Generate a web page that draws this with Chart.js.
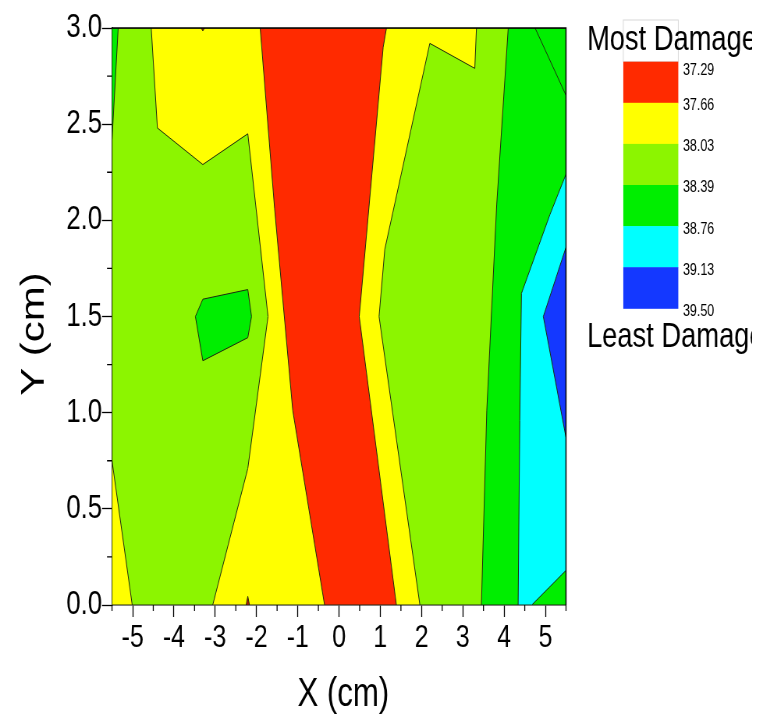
<!DOCTYPE html>
<html lang="en">
<head>
  <meta charset="UTF-8" />
  <title>Damage contour map</title>
  <script src="https://cdn.jsdelivr.net/npm/chart.js"></script>
  <style>
    html, body { margin: 0; padding: 0; background: #fff; overflow: hidden; }
  </style>
</head>
<body>
  <!-- the original picture is squeezed sideways, so the canvas is drawn wider and shrunk by css -->
  <canvas id="mapa" width="978" height="717" style="display:block; width:763px; height:717px;"></canvas>

<script>
  // ticks and colour levels
  const xTicks = [-5, -4, -3, -2, -1, 0, 1, 2, 3, 4, 5];
  const yTicks = [0, 0.5, 1.0, 1.5, 2.0, 2.5, 3.0];
  const levels = ["37.29", "37.66", "38.03", "38.39", "38.76", "39.13", "39.50"];
  const levelColors = ["#ff2a00", "#ffff00", "#8cf500", "#00ee00", "#00ffff", "#1438ff"];

  // contour regions, [x cm, y cm]
  const regionBase = [[-5.5, 0], [5.5, 0], [5.5, 3], [-5.5, 3]];
  const regionYellow = [[-4.55, 3], [-4.40, 2.48], [-3.30, 2.29], [-2.21, 2.45], [-1.72, 1.50], [-2.21, 0.71],
    [-3.06, 0], [1.96, 0], [0.97, 1.50], [1.11, 1.85], [2.20, 2.92], [3.29, 2.79], [3.33, 3]];
  const regionRed = [[-1.91, 3], [-1.56, 2.06], [-1.12, 1.01], [-0.35, 0], [1.39, 0], [0.49, 1.50], [1.07, 2.90], [1.15, 3]];
  const regionGreen = [[4.10, 3], [3.82, 2.08], [3.58, 1.01], [3.45, 0], [5.5, 0], [5.5, 3]];
  const regionCyan = [[5.5, 2.24], [5.11, 2.03], [4.42, 1.62], [4.38, 0.96], [4.34, 0], [4.67, 0], [5.5, 0.18]];
  const regionBlue = [[5.5, 1.86], [4.95, 1.50], [5.5, 0.87]];
  const islandGreen = [[-3.30, 1.59], [-2.21, 1.64], [-2.12, 1.50], [-2.21, 1.39], [-3.30, 1.27], [-3.48, 1.50]];
  const cornerGreenLeft = [[-5.5, 3], [-5.35, 3], [-5.5, 2.42]];
  const cornerGreenRight = [[4.75, 3], [5.5, 3], [5.5, 2.65]];
  const cornerYellow = [[-5.5, 0], [-5.5, 0.75], [-5.01, 0]];
  const spikeRedBottom = [[-2.25, 0], [-2.21, 0.045], [-2.17, 0]];
  const spikeRedTop = [[-3.34, 3], [-3.30, 2.985], [-3.26, 3]];

  const SX = 763 / 978;
  const fonte = "'Liberation Sans', Arial, sans-serif";

  // drawing order: first one at the back
  const camadas = [
    [regionBase, levelColors[2]],
    [regionYellow, levelColors[1]],
    [regionRed, levelColors[0]],
    [regionGreen, levelColors[3]],
    [regionCyan, levelColors[4]],
    [regionBlue, levelColors[5]],
    [islandGreen, levelColors[3]],
    [cornerGreenLeft, levelColors[3]],
    [cornerGreenRight, levelColors[3]],
    [cornerYellow, levelColors[1]],
    [spikeRedBottom, "#c01800"],
    [spikeRedTop, "#c01800"],
  ];

  const datasets = camadas.map(function (c, i) {
    const pts = c[0].map(p => ({ x: p[0], y: p[1] }));
    pts.push({ x: c[0][0][0], y: c[0][0][1] });
    return {
      data: pts,
      backgroundColor: c[1],
      borderColor: "#1e2a10",
      borderWidth: 1,
      fill: "shape",
      pointRadius: 0,
      tension: 0,
      order: camadas.length - i,
    };
  });

  // border, minor ticks, axis titles and the colour bar
  const extras = {
    id: "extras",
    afterDraw(chart) {
      const ctx = chart.ctx;
      const a = chart.chartArea;
      const sx = chart.scales.x;
      const sy = chart.scales.y;
      ctx.save();

      ctx.strokeStyle = "#000";
      ctx.lineWidth = 1.5;
      ctx.beginPath();
      ctx.moveTo(a.left, a.top);
      ctx.lineTo(a.right, a.top);
      ctx.lineTo(a.right, a.bottom);
      ctx.stroke();

      // minor ticks
      ctx.lineWidth = 1.3;
      ctx.beginPath();
      for (let v = -5.5; v <= 5.5; v += 1) {
        const px = sx.getPixelForValue(v);
        ctx.moveTo(px, a.bottom);
        ctx.lineTo(px, a.bottom + 6);
      }
      for (let v = 0.25; v < 3; v += 0.5) {
        const py = sy.getPixelForValue(v);
        ctx.moveTo(a.left, py);
        ctx.lineTo(a.left - 6.4, py);
      }
      ctx.stroke();

      // axis titles
      ctx.fillStyle = "#000";
      ctx.font = "40px " + fonte;
      ctx.textAlign = "center";
      ctx.textBaseline = "alphabetic";
      ctx.fillText("X (cm)", 343.3 / SX, 706);
      ctx.save();
      ctx.translate(43.3 / SX, 334);
      ctx.rotate(-Math.PI / 2);
      ctx.font = "42px " + fonte;
      ctx.fillText("Y (cm)", 0, 0);
      ctx.restore();

      // colour bar
      const cbL = 623.3 / SX, cbR = 678.3 / SX, cbTop = 61.7, cbH = 41.1;
      ctx.fillStyle = "#fff";
      ctx.strokeStyle = "#d8d8d8";
      ctx.lineWidth = 1;
      ctx.fillRect(cbL, 20, cbR - cbL, cbTop - 20);
      ctx.strokeRect(cbL, 20, cbR - cbL, cbTop - 20);
      levelColors.forEach(function (c, i) {
        ctx.fillStyle = c;
        ctx.fillRect(cbL, cbTop + i * cbH, cbR - cbL, cbH + 0.5);
      });
      ctx.fillStyle = "#000";
      ctx.font = "16px " + fonte;
      ctx.textAlign = "left";
      ctx.textBaseline = "middle";
      levels.forEach(function (t, i) {
        ctx.fillText(t, 683 / SX, cbTop + i * cbH + (i === 0 ? 9 : 3));
      });

      ctx.beginPath();
      ctx.rect(0, 0, 752 / SX, chart.height);
      ctx.clip();
      ctx.font = "35px " + fonte;
      ctx.textBaseline = "alphabetic";
      ctx.fillText("Most Damage", 587 / SX, 50);
      ctx.fillText("Least Damage", 587 / SX, 347);

      ctx.restore();
    },
  };

  const grafico = document.getElementById("mapa").getContext("2d");

  new Chart(grafico, {
    type: "line",
    data: { datasets: datasets },
    options: {
      responsive: false,
      animation: false,
      events: [],
      layout: { padding: { top: 28, right: (763 - 566) / SX, left: 0, bottom: 0 } },
      plugins: { legend: { display: false }, tooltip: { enabled: false } },
      scales: {
        x: {
          type: "linear",
          min: -5.5,
          max: 5.5,
          afterFit: function (s) { s.height = 112; },
          afterBuildTicks: function (s) { s.ticks = xTicks.map(v => ({ value: v })); },
          ticks: { color: "#000", font: { family: fonte, size: 32 }, padding: 2, maxRotation: 0, autoSkip: false },
          grid: { drawOnChartArea: false, tickLength: 12, color: "#000", tickWidth: 1.3 },
          border: { color: "#000", width: 1.5 },
        },
        y: {
          type: "linear",
          min: 0,
          max: 3,
          afterFit: function (s) { s.width = 112 / SX; },
          afterBuildTicks: function (s) { s.ticks = yTicks.map(v => ({ value: v })); },
          ticks: { color: "#000", font: { family: fonte, size: 33 }, padding: 0, callback: v => v.toFixed(1) },
          grid: { drawOnChartArea: false, tickLength: 12.8, color: "#000", tickWidth: 1.3 },
          border: { color: "#000", width: 1.5 },
        },
      },
    },
    plugins: [extras],
  });
</script>
</body>
</html>
